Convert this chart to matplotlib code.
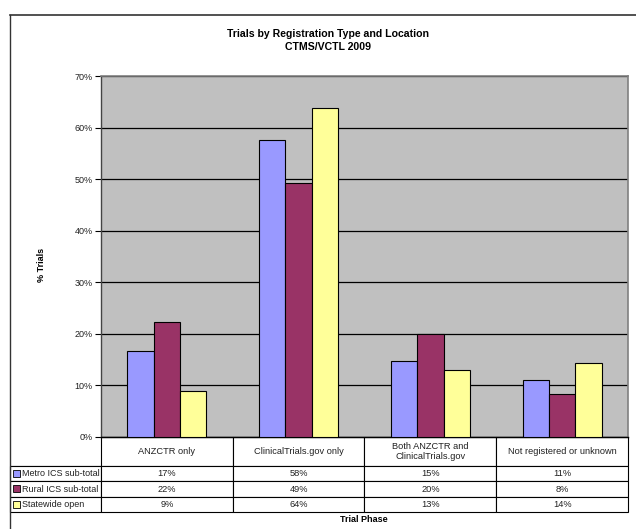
import numpy as np
import matplotlib.pyplot as plt
from matplotlib.patches import Rectangle
from matplotlib.lines import Line2D

plt.rcParams['font.family'] = ['Liberation Sans', 'DejaVu Sans']

# data (% of trials)
categories = ['ANZCTR only', 'ClinicalTrials.gov only',
              'Both ANZCTR and\nClinicalTrials.gov', 'Not registered or unknown']
series_names = ['Metro ICS sub-total', 'Rural ICS sub-total', 'Statewide open']
metro = [16.6, 57.6, 14.7, 11.0]
rural = [22.3, 49.3, 20.0, 8.3]
statewide = [8.9, 63.8, 12.9, 14.3]
colors = ['#9999FF', '#993366', '#FFFF99']

W, H = 636, 529
fig = plt.figure(figsize=(W / 100, H / 100), dpi=100)

# plot area in pixel terms
left, right, top, bottom = 101, 628, 76, 437
ax = fig.add_axes([left / W, 1 - bottom / H, (right - left) / W, (bottom - top) / H])
ax.set_facecolor('#C0C0C0')

x = np.arange(len(categories))
bw = 0.2
all_series = [metro, rural, statewide]
for i, (vals, c) in enumerate(zip(all_series, colors)):
    ax.bar(x + (i - 1) * bw, vals, bw, color=c, edgecolor='black', linewidth=0.8, zorder=3)

ax.set_xlim(-0.5, len(categories) - 0.5)
ax.set_ylim(0, 70)
ax.set_yticks(np.arange(0, 71, 10))
ax.set_yticklabels([f'{v}%' for v in range(0, 71, 10)], fontsize=6.5, color='#222222')
ax.yaxis.grid(True, color='black', linewidth=0.9, zorder=1)
ax.tick_params(axis='y', length=4, width=0.8, pad=2)
ax.set_xticks([])
for s in ['top', 'right']:
    ax.spines[s].set_color('#808080')
    ax.spines[s].set_linewidth(1.2)
ax.spines['left'].set_color('#444444')
ax.spines['left'].set_linewidth(1.0)
ax.spines['bottom'].set_linewidth(1.0)

fig.text(42 / W, 1 - 265 / H, '% Trials', fontsize=6.5, fontweight='bold',
         rotation=90, ha='center', va='center')

# data table under the plot
rows = [[name] + [f'{round(v)}%' for v in vals] for name, vals in zip(series_names, all_series)]
cell_text = [[''] + categories] + rows
tab_left = (10 - left) / (right - left)
tab_h = (512 - 437) / (bottom - top)
tbl = ax.table(cellText=cell_text, cellLoc='center',
               bbox=[tab_left, -tab_h, 1 - tab_left, tab_h])
tbl.auto_set_font_size(False)
tbl.set_fontsize(6.7)
col_w = [(left - 10)] + [(right - left) / 4] * 4
for (r, c), cell in tbl.get_celld().items():
    cell.set_width(col_w[c])
    cell.set_height(29 if r == 0 else 15.3)
    cell.set_linewidth(0.8)
    cell.get_text().set_color('#222222')
    if c == 0:
        cell.get_text().set_ha('left')
        cell.get_text().set_fontsize(6.5)
        cell._loc = 'left'
        cell.PAD = 12 / (left - 10)
    if r == 0 and c == 0:
        cell.visible_edges = 'B'

# legend swatches in the table
for i, c in enumerate(colors):
    yc = 466 + 15.3 * (i + 0.5)
    fig.patches.append(Rectangle((12.5 / W, 1 - (yc + 3.5) / H), 7 / W, 7 / H,
                                 transform=fig.transFigure, facecolor=c,
                                 edgecolor='black', linewidth=0.6))

fig.text(364 / W, 1 - 519 / H, 'Trial Phase', fontsize=6.5, fontweight='bold',
         ha='center', va='center')
fig.text(328 / W, 1 - 34 / H, 'Trials by Registration Type and Location',
         fontsize=7.6, fontweight='bold', ha='center', va='center')
fig.text(328 / W, 1 - 47.5 / H, 'CTMS/VCTL 2009',
         fontsize=7.6, fontweight='bold', ha='center', va='center')

# outer chart frame
fig.lines.append(Line2D([10 / W, 1], [1 - 15 / H, 1 - 15 / H], transform=fig.transFigure,
                        color='#333333', linewidth=1.2))
fig.lines.append(Line2D([10 / W, 10 / W], [1 - 15 / H, 0], transform=fig.transFigure,
                        color='#333333', linewidth=1.0))

fig.savefig('out.png', dpi=100)
